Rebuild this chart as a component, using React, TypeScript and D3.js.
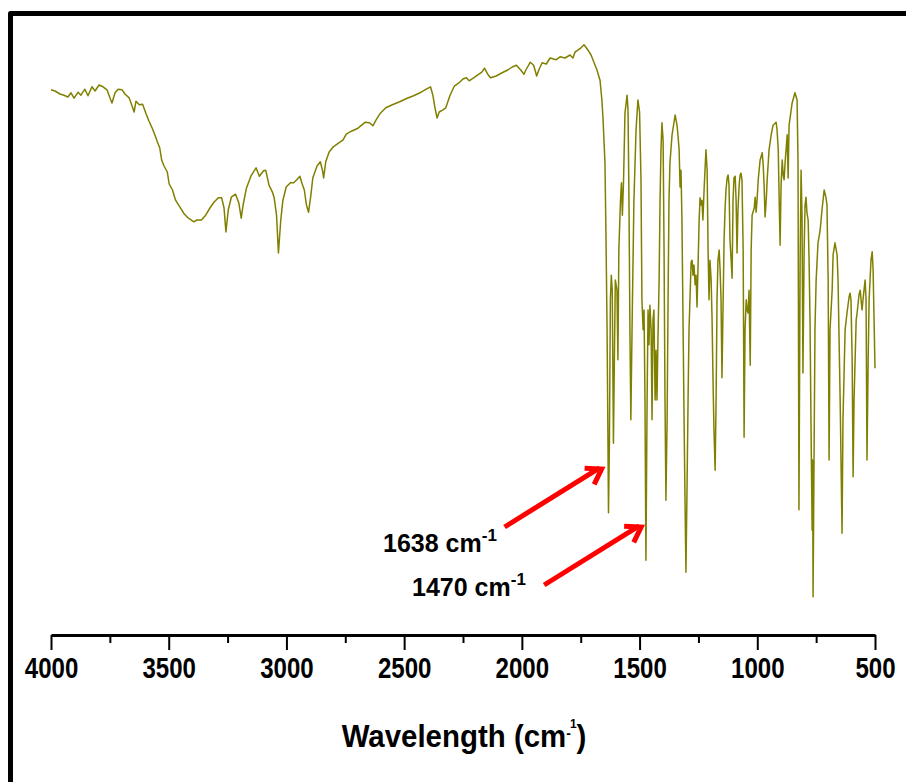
import * as d3 from 'd3';
import React, { useEffect, useRef } from 'react';

const width = 906;
const height = 782;
const lineColor = '#808000';
const arrowColor = '#ff0000';
const font = '"Liberation Sans", Arial, sans-serif';

// axis ticks (cm-1)
const majorTicks = [4000, 3500, 3000, 2500, 2000, 1500, 1000, 500];
const minorTicks = [3750, 3250, 2750, 2250, 1750, 1250, 750];

// [wavenumber cm-1, transmittance %]
const functionalRegion = [
  [4000, 91.7], [3983, 91.5], [3962, 91], [3945, 90.8], [3928, 90.5], [3915, 91.2], [3902, 90.3],
  [3885, 91.3], [3873, 90.8], [3856, 91.8], [3843, 90.7], [3826, 92.2], [3813, 91.5], [3796, 92.5],
  [3779, 92.2], [3762, 91.7], [3749, 90.3], [3741, 89.5], [3728, 91.2], [3715, 91.8], [3698, 91.7],
  [3686, 91], [3669, 90.4], [3660, 89.5], [3647, 88], [3639, 89.8], [3625, 89.2], [3611, 89.3],
  [3597, 87.8], [3584, 86.5], [3570, 85.3], [3557, 84], [3548, 83], [3538, 82], [3530, 80],
  [3520, 79], [3506, 78], [3498, 76], [3484, 75], [3471, 73.3], [3453, 72.2], [3434, 71],
  [3416, 70.3], [3393, 69.7], [3380, 70], [3361, 70], [3343, 70.8], [3325, 72], [3307, 73],
  [3289, 73.7], [3275, 73.7], [3265, 72], [3257, 68], [3247, 71.7], [3234, 73.8], [3216, 74.3],
  [3202, 72.8], [3192, 70.3], [3184, 72.5], [3170, 75.3], [3151, 77.3], [3129, 78.7], [3115, 77.3],
  [3097, 78.2], [3088, 78.3], [3074, 75.8], [3060, 74.7], [3052, 73.7], [3042, 70.8], [3034, 64.5],
  [3024, 70], [3015, 73.3], [3001, 75.5], [2983, 76.2], [2969, 76.2], [2956, 76.7], [2943, 77.3],
  [2933, 76], [2924, 75], [2915, 72.5], [2906, 71.3], [2896, 74.2], [2888, 77], [2870, 79],
  [2856, 79.7], [2847, 78.3], [2842, 77], [2833, 79.7], [2819, 81.3], [2801, 82.2], [2779, 82.8],
  [2760, 83.3], [2746, 84.3], [2724, 84.8], [2696, 85.3], [2665, 86.3], [2647, 86.2], [2633, 85.7],
  [2619, 86.7], [2601, 87.8], [2578, 88.7], [2550, 89.2], [2519, 89.7], [2487, 90.3], [2460, 90.7],
  [2428, 91.3], [2406, 91.8], [2388, 92.2], [2378, 90.8], [2369, 88.7], [2360, 87], [2351, 88],
  [2337, 88.3], [2323, 88.7], [2305, 90.8], [2287, 92.3], [2269, 92.8], [2250, 93.5], [2236, 93.7],
  [2224, 93.2], [2205, 93.7], [2187, 94.2], [2169, 94.7], [2159, 95.3], [2145, 94.3], [2133, 93.7],
  [2109, 94], [2086, 94.5], [2060, 95], [2041, 95.5], [2023, 95.8], [2005, 95], [1991, 94.3],
  [1983, 95], [1964, 96.3], [1950, 95.8], [1937, 94], [1928, 95], [1914, 96.2], [1896, 96],
  [1880, 97], [1855, 96.7], [1838, 97.2], [1817, 97], [1795, 97.5], [1783, 97], [1774, 98],
  [1762, 98.3], [1749, 98.7], [1736, 99.2], [1728, 98.8], [1719, 98.3], [1706, 97.5], [1694, 96.3],
  [1681, 95], [1668, 93.3], [1660, 90], [1655, 86.7], [1647, 79.5], [1643, 68.3], [1638, 51.7],
  [1634, 31.7],
];

const fingerprintRegion = [
  [1632, 21.2], [1628, 33.3], [1624, 56.7], [1620, 60.8], [1616, 58.3], [1611, 32.8], [1607, 46.7],
  [1603, 60], [1596, 58.3], [1592, 46.7], [1588, 65], [1581, 73.3], [1577, 76.2], [1573, 70.8],
  [1568, 76.7], [1562, 87.8], [1553, 90.8], [1549, 88.3], [1545, 73.3], [1541, 51.7], [1537, 36.7],
  [1532, 51.7], [1524, 73.3], [1515, 85], [1507, 90], [1500, 88], [1494, 76.7], [1490, 56.7],
  [1485, 51.7], [1481, 55], [1477, 40], [1473, 13.3], [1468, 40], [1464, 55], [1460, 49.2],
  [1456, 55.8], [1451, 51.7], [1447, 36.7], [1443, 53.3], [1439, 55], [1434, 40], [1430, 48.3],
  [1426, 40], [1422, 50], [1417, 60], [1413, 73.3], [1409, 81.7], [1405, 86.2], [1400, 83.3],
  [1396, 65], [1392, 40], [1388, 23.3], [1383, 36.7], [1379, 56.7], [1375, 73.3], [1371, 79.5],
  [1362, 84.2], [1349, 87.5], [1341, 85.8], [1337, 84.2], [1332, 81.7], [1328, 75.5], [1324, 78.3],
  [1320, 70], [1315, 51.7], [1311, 36.7], [1307, 23.3], [1303, 11.3], [1298, 26.7], [1294, 40],
  [1290, 51.7], [1286, 56.7], [1281, 63], [1277, 63.3], [1273, 60.8], [1269, 62.5], [1264, 59.2],
  [1260, 60.8], [1256, 55.5], [1252, 61.7], [1247, 70], [1243, 73.7], [1239, 72.5], [1235, 73.3],
  [1231, 70], [1226, 75], [1218, 81.7], [1213, 78.3], [1209, 65], [1205, 56.7], [1201, 63.3],
  [1196, 60], [1192, 53.3], [1188, 43.3], [1184, 35], [1179, 28.3], [1175, 40], [1171, 56.7],
  [1167, 63.3], [1162, 65], [1158, 61.7], [1154, 56.7], [1150, 43.7], [1145, 56.7], [1141, 66.7],
  [1137, 71.7], [1133, 75], [1128, 77], [1124, 77.5], [1120, 75.8], [1116, 66.7], [1111, 63.3],
  [1107, 60.3], [1103, 73.3], [1099, 77], [1094, 77.3], [1090, 73.3], [1086, 64.5], [1082, 71.7],
  [1077, 75.8], [1073, 77.5], [1069, 77.8], [1065, 76.7], [1060, 65], [1056, 33.8], [1052, 51.7],
  [1047, 56.7], [1043, 55], [1039, 54.5], [1035, 58.3], [1030, 45.8], [1026, 65], [1022, 70.8],
  [1013, 72], [1009, 73.8], [1005, 71.3], [1001, 73.3], [996, 76.7], [988, 80], [979, 81.2],
  [975, 79.2], [971, 75.8], [967, 70.5], [962, 73.3], [958, 76.7], [950, 81.7], [941, 84.2],
  [933, 85.8], [920, 86.3], [916, 85], [911, 81.7], [907, 73.3], [903, 65.8], [899, 75.8], [894, 80],
  [890, 77.5], [886, 76.7], [882, 79.5], [873, 84.2], [869, 77], [865, 85.8], [852, 89.5],
  [840, 91.2], [831, 90], [827, 80], [823, 21.7], [818, 63.3], [814, 78.3], [810, 70.8], [806, 44.5],
  [801, 65], [797, 72.5], [793, 73.8], [789, 71.2], [784, 70], [780, 63.3], [776, 53.3], [772, 36.7],
  [767, 18.3], [765, 30], [763, 7.2], [759, 30], [755, 51.7], [750, 60], [742, 66.2], [733, 68.3],
  [725, 71.7], [716, 75], [708, 73.7], [704, 72.5], [699, 60], [695, 30], [691, 51.7], [682, 58.3],
  [678, 64.2], [670, 66.2], [661, 64.2], [657, 60], [648, 40], [640, 17.8], [636, 36.7], [627, 51.7],
  [619, 54.5], [610, 57.2], [606, 57.8], [602, 56.7], [597, 46.7], [593, 27.2], [589, 40],
  [580, 53.3], [576, 54.5], [568, 57.5], [563, 58.3], [555, 55], [551, 56.7], [542, 60], [538, 56.7],
  [534, 30], [529, 46.7], [525, 56.7], [521, 60], [517, 63.3], [512, 64.7], [508, 61.7], [504, 53.3],
  [500, 45.3],
];

const peakLabels = ['1638', '1470'];
const peakPositions = [1638, 1470];

const spectrum = [...functionalRegion, ...fingerprintRegion];

const App = () => {
  const majorRef = useRef(null);
  const minorRef = useRef(null);

  const xScale = d3.scaleLinear().domain([4000, 500]).range([51, 875]);
  const yScale = d3.scaleLinear().domain([0, 100]).range([640, 40]);
  const axisY = 635;

  const lineGenerator = d3.line()
    .x(d => xScale(d[0]))
    .y(d => yScale(d[1]));

  useEffect(() => {
    const major = d3.axisBottom(xScale)
      .tickValues(majorTicks)
      .tickSize(15)
      .tickSizeOuter(0)
      .tickPadding(7)
      .tickFormat(d3.format('d'));
    const minor = d3.axisBottom(xScale)
      .tickValues(minorTicks)
      .tickSize(8)
      .tickSizeOuter(0)
      .tickFormat(() => '');

    const gMinor = d3.select(minorRef.current).call(minor);
    gMinor.select('.domain').remove();
    gMinor.selectAll('line').attr('stroke-width', 2);

    const gMajor = d3.select(majorRef.current).call(major);
    gMajor.select('.domain').attr('stroke-width', 3);
    gMajor.selectAll('line').attr('stroke-width', 2);
    gMajor.selectAll('text')
      .attr('fill', '#000')
      .attr('font-family', font)
      .attr('font-weight', 'bold')
      .attr('font-size', 29)
      .attr('transform', 'scale(0.83,1)');
  }, []);

  // arrow layout: tip y per annotation, label anchor
  const arrowTips = [469, 527];
  const labelPos = [[383, 552], [412, 596]];

  const arrowHead = (tx, ty) => {
    const back = Math.atan2(58, -97);
    const len = 17;
    const a1 = back - 0.58, a2 = back + 0.58;
    return `M${tx + len * Math.cos(a1)},${ty + len * Math.sin(a1)}L${tx},${ty}L${tx + len * Math.cos(a2)},${ty + len * Math.sin(a2)}`;
  };

  return (
    <svg width={width} height={height} style={{ position: 'absolute', left: 0, top: 0, background: '#fff' }}>
      <path d={`M10.5,${height} V13.5 H${width}`} fill='none' stroke='#000' strokeWidth='5' strokeLinejoin='round' />
      <path d={lineGenerator(spectrum)} fill='none' stroke={lineColor} strokeWidth='1.5' strokeLinejoin='round' />
      <g ref={minorRef} transform={`translate(0, ${axisY})`} />
      <g ref={majorRef} transform={`translate(0, ${axisY})`} />

      {peakPositions.map((wn, i) => {
        const tx = xScale(wn) - 5.5;
        const ty = arrowTips[i];
        return (
          <g key={wn}>
            <path d={`M${tx - 97},${ty + 58}L${tx - 2},${ty - 1.2}`} stroke={arrowColor} strokeWidth='5' />
            <path d={arrowHead(tx, ty)} fill='none' stroke={arrowColor} strokeWidth='5' strokeLinejoin='miter' />
            <text x={labelPos[i][0]} y={labelPos[i][1]} fontFamily={font} fontWeight='bold' fontSize='25' fill='#000'>
              {peakLabels[i]} cm<tspan fontSize='17' dy='-11'>-1</tspan>
            </text>
          </g>
        );
      })}

      <text transform='translate(464,747) scale(0.92,1)' textAnchor='middle' fontFamily={font} fontWeight='bold' fontSize='32' fill='#000'>
        Wavelength (cm<tspan fontSize='15' dy='-9'>-</tspan><tspan fontSize='13' dx='-1' dy='-10'>1</tspan><tspan dy='19'>)</tspan>
      </text>
    </svg>
  );
};

export default App;
